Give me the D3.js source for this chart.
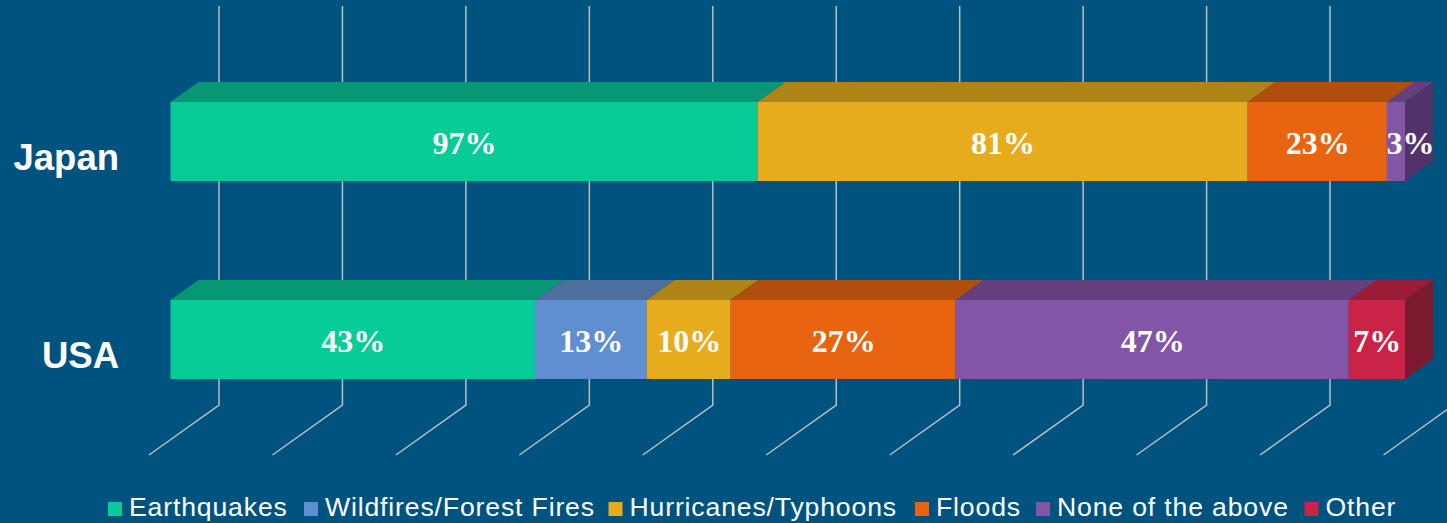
<!DOCTYPE html>
<html>
<head>
<meta charset="utf-8">
<script src="https://cdnjs.cloudflare.com/ajax/libs/d3/7.8.5/d3.min.js"></script>
<style>
html,body{margin:0;padding:0;background:#01537f;overflow:hidden}
svg{display:block}
</style>
</head>
<body>
<svg id="chart" width="1447" height="523"></svg>
<script>
const countries = ["Japan", "USA"];
const seriesNames = ["Earthquakes", "Wildfires/Forest Fires", "Hurricanes/Typhoons", "Floods", "None of the above", "Other"];
const japanValues = [97, 0, 81, 23, 3, 0];
const usaValues = [43.4, 13.3, 10, 26.8, 46.8, 6.7];
const labelValues = { Japan: [97, 0, 81, 23, 3, 0], USA: [43, 13, 10, 27, 47, 7] };
const frontColors = ["#07cc97", "#5f8fd0", "#e6ac1e", "#e96411", "#8255a6", "#c92347"];
const topColors = ["#079774", "#4c6f9e", "#ad8415", "#b14e0c", "#663f7e", "#9a1c36"];
const sideColors = ["#067a5e", "#3d5a80", "#8c6a10", "#8f3f0a", "#533169", "#7e1a30"];
const legendTextX = [129, 325, 629.5, 936, 1057, 1325.5];

const W = 1447, H = 523;
const svg = d3.select("#chart");
const depthX = 28, depthY = 20;      // bar extrusion
const wallX = 48.5, floorX = 21.5;   // wall / floor offsets of the gridlines
const wallTop = 6, wallBottom = 405, floorBottom = 455;

const rows = [
  Object.fromEntries([["country", "Japan"], ...seriesNames.map((s, i) => [s, japanValues[i]])]),
  Object.fromEntries([["country", "USA"], ...seriesNames.map((s, i) => [s, usaValues[i]])])
];
const stacked = d3.stack().keys(seriesNames).offset(d3.stackOffsetExpand)(rows);

const x = d3.scaleLinear().domain([0, 1]).range([170.5, 1405]);
const y = d3.scaleBand().domain(countries).range([102, 379]).paddingInner(0.601);

// gridlines: back wall plus floor
const grid = svg.append("g");
grid.selectAll("path").data(x.ticks(10)).join("path")
  .attr("fill", "none")
  .attr("stroke", "#b8bfc6")
  .attr("stroke-width", 1.5)
  .attr("d", t => d3.line()([
    [x(t) + wallX, wallTop],
    [x(t) + wallX, wallBottom],
    [x(t) - floorX, floorBottom]
  ]));

// bars
const bars = svg.append("g");
stacked.forEach((layer, si) => {
  layer.forEach((seg, ri) => {
    const c = rows[ri].country;
    const x0 = x(seg[0]), x1 = x(seg[1]);
    if (x1 - x0 <= 0) return;
    const yt = y(c), h = y.bandwidth();
    const g = bars.append("g");
    g.append("path").attr("fill", topColors[si]).attr("d", d3.line()([
      [x0, yt], [x0 + depthX, yt - depthY], [x1 + depthX, yt - depthY], [x1, yt]
    ]) + "Z");
    if (seg[1] >= 0.9999) {
      g.append("path").attr("fill", sideColors[si]).attr("d", d3.line()([
        [x1, yt], [x1 + depthX, yt - depthY], [x1 + depthX, yt + h - depthY], [x1, yt + h]
      ]) + "Z");
    }
    g.append("rect").attr("x", x0).attr("y", yt).attr("width", x1 - x0).attr("height", h).attr("fill", frontColors[si]);
  });
});

// value labels
const labelSize = 32;
const labels = svg.append("g");
stacked.forEach((layer, si) => {
  layer.forEach((seg, ri) => {
    const c = rows[ri].country;
    const v = labelValues[c][si];
    if (!v) return;
    const x0 = x(seg[0]), x1 = x(seg[1]);
    labels.append("text")
      .attr("x", (x0 + x1) / 2 + 0.5 + (x1 - x0 < 30 ? depthX / 2 : 0))
      .attr("y", y(c) + 52)
      .attr("text-anchor", "middle")
      .attr("font-family", "'Liberation Serif', serif")
      .attr("font-weight", "bold")
      .attr("font-size", labelSize)
      .attr("fill", "#ffffff")
      .text(v + "%");
  });
});

// category labels
svg.append("g").selectAll("text").data(countries).join("text")
  .attr("x", 119)
  .attr("y", c => y(c) + 68)
  .attr("text-anchor", "end")
  .attr("font-family", "'Liberation Sans', Arial, sans-serif")
  .attr("font-weight", "bold")
  .attr("font-size", 36.5)
  .attr("fill", "#ffffff")
  .text(d => d);

// legend
const legend = svg.append("g");
seriesNames.forEach((s, i) => {
  legend.append("rect")
    .attr("x", legendTextX[i] - 21).attr("y", 502).attr("width", 14).attr("height", 14)
    .attr("fill", frontColors[i]);
  legend.append("text")
    .attr("x", legendTextX[i]).attr("y", 516)
    .attr("font-family", "'Liberation Sans', Arial, sans-serif")
    .attr("font-size", 26.6)
    .attr("letter-spacing", 0.85)
    .attr("fill", "#ffffff")
    .text(s);
});
</script>
</body>
</html>
